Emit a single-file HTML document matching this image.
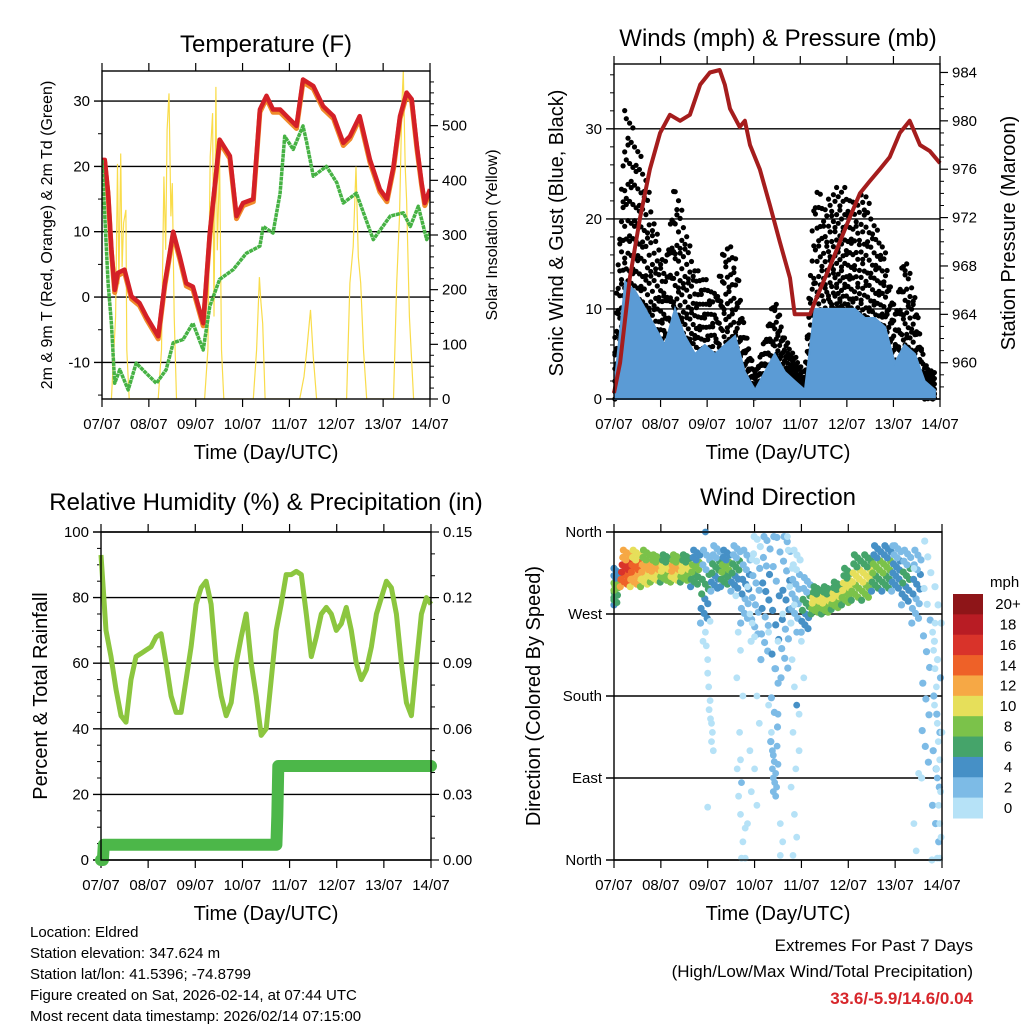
<!DOCTYPE html>
<html><head><meta charset="utf-8">
<style>
html,body{margin:0;padding:0;background:#fff;}
svg{display:block;font-family:"Liberation Sans",sans-serif;}
</style></head>
<body>
<svg id="c" width="1024" height="1024" viewBox="0 0 1024 1024">
<g id="static">
<text x="266" y="52" font-size="24" text-anchor="middle">Temperature (F)</text>
<text x="778" y="46" font-size="24" text-anchor="middle">Winds (mph) &amp; Pressure (mb)</text>
<text x="266" y="510" font-size="24" text-anchor="middle">Relative Humidity (%) &amp; Precipitation (in)</text>
<text x="778" y="505" font-size="24" text-anchor="middle">Wind Direction</text>
<text x="266" y="459" font-size="20" text-anchor="middle">Time (Day/UTC)</text>
<text x="778" y="459" font-size="20" text-anchor="middle">Time (Day/UTC)</text>
<text x="266" y="920" font-size="20" text-anchor="middle">Time (Day/UTC)</text>
<text x="778" y="920" font-size="20" text-anchor="middle">Time (Day/UTC)</text>
<text transform="translate(52,235) rotate(-90)" font-size="16" text-anchor="middle">2m &amp; 9m T (Red, Orange) &amp; 2m Td (Green)</text>
<text transform="translate(497,235) rotate(-90)" font-size="16" text-anchor="middle">Solar Insolation (Yellow)</text>
<text transform="translate(563,233) rotate(-90)" font-size="20" text-anchor="middle">Sonic Wind &amp; Gust (Blue, Black)</text>
<text transform="translate(1015,233) rotate(-90)" font-size="20" text-anchor="middle">Station Pressure (Maroon)</text>
<text transform="translate(47,696) rotate(-90)" font-size="20" text-anchor="middle">Percent &amp; Total Rainfall</text>
<text transform="translate(540,696) rotate(-90)" font-size="20" text-anchor="middle">Direction (Colored By Speed)</text>
<g font-size="15">
<text x="30" y="937">Location: Eldred</text>
<text x="30" y="958">Station elevation: 347.624 m</text>
<text x="30" y="979">Station lat/lon: 41.5396; -74.8799</text>
<text x="30" y="1000">Figure created on Sat, 2026-02-14, at 07:44 UTC</text>
<text x="30" y="1021">Most recent data timestamp: 2026/02/14 07:15:00</text>
</g>
<g font-size="17" text-anchor="end">
<text x="973" y="951">Extremes For Past 7 Days</text>
<text x="973" y="977">(High/Low/Max Wind/Total Precipitation)</text>
<text x="973" y="1004" fill="#d7262b" font-weight="bold">33.6/-5.9/14.6/0.04</text>
</g>
</g>
</svg>
<script>
// ---------- data ----------
const dayLabels=["07/07","08/07","09/07","10/07","11/07","12/07","13/07","14/07"];
const tempDays=[0,0.06,0.13,0.20,0.27,0.34,0.48,0.63,0.80,0.95,1.20,1.34,1.52,1.66,1.80,1.94,2.16,2.30,2.51,2.73,2.87,3.01,3.23,3.37,3.51,3.65,3.80,3.94,4.15,4.29,4.51,4.72,4.94,5.15,5.29,5.50,5.72,5.93,6.08,6.22,6.36,6.50,6.61,6.72,6.82,6.89,7];
const tempF=[21,21,16,7.3,1.1,3.7,4.2,0.1,-0.9,-3,-6,2.1,10,6.2,2.1,1.6,-4,9.8,24.1,21.6,12.4,14.4,15,28.7,30.8,28.7,28.7,27.7,26.2,33.3,32.3,29.2,27.7,23.6,24.6,27.7,21,16.5,15,20,27.7,31.3,30.3,23.1,17.5,14.4,16.5];
const dewDays=[0,0.06,0.13,0.20,0.27,0.38,0.56,0.73,0.95,1.16,1.37,1.52,1.73,1.94,2.16,2.30,2.51,2.80,3.08,3.37,3.44,3.65,3.80,3.90,4.08,4.29,4.37,4.51,4.79,5.01,5.15,5.43,5.58,5.79,6.15,6.43,6.58,6.75,6.93,7];
const dewF=[21,12.4,2.1,-4,-13.2,-11.1,-14.2,-10.1,-11.7,-13.2,-11.1,-7,-6.5,-4,-8.1,-1.4,2.7,4.2,6.7,7.8,10.8,9.8,15.9,24.6,22.6,26.2,23.6,18.5,20,17.5,14.4,15.9,12.9,8.8,12.4,12.9,10.8,13.9,8.8,9.8];
const solarDays=[0.20,0.29,0.33,0.36,0.40,0.43,0.46,0.51,0.53,0.58,1.20,1.27,1.32,1.36,1.39,1.43,1.47,1.50,1.54,1.59,2.19,2.26,2.31,2.36,2.39,2.43,2.46,2.51,2.55,2.60,3.23,3.30,3.36,3.39,3.43,3.48,4.22,4.31,4.37,4.45,4.51,4.58,5.22,5.29,5.36,5.42,5.47,5.52,5.58,5.65,6.22,6.29,6.35,6.40,6.43,6.47,6.50,6.56,6.65];
const solarW=[0,150,430,210,449,241,322,346,90,0,0,90,407,273,492,559,334,395,151,0,0,90,443,523,151,571,272,437,90,0,0,90,223,180,138,0,0,41,90,163,77,0,0,212,279,425,260,212,90,0,0,212,334,540,600,425,364,151,0];
const windDays=[0.02,0.24,0.45,0.67,0.88,1.09,1.31,1.52,1.74,1.95,2.17,2.38,2.60,2.81,3.03,3.24,3.45,3.67,3.88,4.10,4.31,4.53,4.74,4.96,5.17,5.39,5.60,5.82,6.03,6.24,6.46,6.67,6.89];
const gustHi=[8,34,30,26,20,15,25,20,15,14,12,18,17,8,3,7,12,7,5,3,25,22,24,24,22,24,20,17,10,17,12,4,3];
const gustLo=[0,12,10,8,5,5,8,5,3,1,1,3,3,1,0,1,2,1,1,0,5,8,10,10,8,8,6,5,2,3,2,0,0];
const sonicHi=[2,13,12,10,8,6,10,7,5,6,5,6,7,3,1,3,5,3,2,1,10,10,10,10,10,9,9,8,4,6,5,2,1];
const presDays=[0,0.13,0.34,0.56,0.77,0.99,1.20,1.42,1.63,1.85,2.06,2.27,2.38,2.49,2.70,2.81,2.92,3.13,3.35,3.56,3.78,3.88,3.99,4.21,4.31,4.42,4.64,4.85,5.06,5.28,5.49,5.71,5.92,6.14,6.35,6.46,6.57,6.78,7];
const presMb=[957.5,960,967,972,976,979,980.5,980,980.5,983,984,984.2,983,981,979.5,980,978,976,973,970,967,964,964,964,965,966,968,970,972,974,975,976,977,979,980,979,978,977.5,976.5];
const rhStep=0.1062;
const rhPct=[93,70,62,52,44,42,55,62,63,64,65,68,69,60,50,45,45,55,65,78,83,85,78,60,50,44,48,60,68,75,60,50,38,40,55,70,78,87,87,88,87,75,62,68,75,77,75,70,72,77,70,60,55,58,65,75,80,85,83,75,60,48,44,60,75,80,78];
const precDays=[0,0.04,0.06,3.72,3.74,3.76,7];
const precIn=[0,0,0.007,0.007,0.02,0.043,0.043];
const dirCenter=[300,320,320,320,320,320,320,320,320,300,320,320,320,300,300,290,250,280,300,280,285,285,290,300,310,310,320,320,320,310,300,220,150];
const dirSpread=[20,20,20,20,15,15,15,15,20,40,25,20,25,40,60,70,120,80,40,30,15,15,15,20,25,25,25,25,25,30,40,130,150];
const dirSpeed=[6,13,11,9,9,8,9,8,6,4,4,5,4,2,1,2,2,2,1,4,7,7,8,8,7,7,6,6,3,4,2,1,1];
const strDays=[1.95,1.97,2.0,2.0,2.02,2.05,2.03,2.06,2.08,2.1,2.08,2.12,2.05,1.9,2.0,2.6,2.65,2.7,2.62,2.75,2.68,2.7,2.63,2.72,2.66,2.7,2.8,2.75,2.72,2.8,2.9,2.95,3.0,2.85,2.95,3.05,3.1,2.9,3.0,2.93,3.05,2.85,3.35,3.38,3.4,3.42,3.38,3.45,3.4,3.43,3.47,3.4,3.45,3.5,3.48,3.36,3.5,3.3,3.45,3.55,3.6,3.55,3.3,3.5,3.6,3.7,3.72,3.8,3.75,3.85,3.9,3.8,3.85,3.9,3.82,3.95,3.88,3.78,3.85,3.9,3.82,4.0,4.05,3.95,6.82,6.85,6.88,6.84,6.9,6.92,6.95,6.9,6.97,6.93,6.95,6.98,6.9,6.95,6.85,6.8,6.88,7.0,6.5,6.4,6.45,5.95,6.4,1.95];
const strDirs=[250,235,220,205,190,175,165,155,150,140,130,120,262,240,58,290,250,230,200,180,140,110,100,85,70,50,35,20,2,2,270,260,245,300,330,180,150,120,100,75,60,40,130,120,115,108,100,95,90,85,80,75,70,105,125,140,160,170,210,40,20,5,250,240,270,355,340,320,300,280,250,220,190,170,140,120,100,80,50,25,5,240,200,160,230,210,190,170,150,130,110,90,75,60,40,25,2,2,260,250,100,140,95,40,10,345,320,360];
const strSpeed=[0,0,0,0,0,0,0,0,0,0,0,0,0,0,0,0,0,0,0,0,0,0,0,2,0,0,0,0,0,0,0,0,0,0,0,0,0,0,0,0,0,0,2,2,2,2,2,2,2,2,2,2,2,2,2,0,2,0,2,0,0,0,0,0,0,0,0,0,0,0,2,0,0,4,0,0,0,0,0,0,0,0,0,0,0,0,0,0,0,0,0,2,0,0,0,0,0,0,0,0,0,0,0,0,0,2,0,4];
const cbLabels=["20+","18","16","14","12","10","8","6","4","2","0"];
const cbColors=["#8e1518","#b81c24","#d9332a","#ee6128","#f6a845","#e6df5a","#7bc24a","#45a46a","#4690c6","#7dbbe6","#b6e2f7"];

// ---------- helpers ----------
const NS="http://www.w3.org/2000/svg";
const svg=document.getElementById('c');
function mk(tag,at,parent){const e=document.createElementNS(NS,tag);for(const k in at)e.setAttribute(k,at[k]);(parent||svg).appendChild(e);return e;}
function lin(d0,d1,r0,r1){return v=>r0+(v-d0)/(d1-d0)*(r1-r0);}
function interp(xs,ys,x){for(let i=1;i<xs.length;i++){if(x<=xs[i]){const t=(x-xs[i-1])/(xs[i]-xs[i-1]);return ys[i-1]+t*(ys[i]-ys[i-1]);}}return ys[ys.length-1];}

function panel(name,x0,x1,y0,y1,ticks,tickLbls,leftMinor,rightTicks,rightLbls,rightMinor){
  const g=mk('g',{});
  
  
  const X=lin(0,7,x0,x1);
  ticks.forEach((t,i)=>{
    const gl=mk('line',{x1:x0-8,x2:x1,y1:t,y2:t,stroke:'#000','stroke-width':1.4},g);
    
    
    const tl=mk('text',{x:x0-12,y:t+5,'font-size':15,'text-anchor':'end'},g);
    tl.textContent=tickLbls[i];
    
    
  });
  leftMinor.forEach(t=>mk('line',{x1:x0-4,x2:x0,y1:t,y2:t,stroke:'#000'},g));
  if(rightTicks){
    rightTicks.forEach((t,i)=>{
      mk('line',{x1:x1,x2:x1+8,y1:t,y2:t,stroke:'#000','stroke-width':1.2},g);
      const tl=mk('text',{x:x1+12,y:t+5,'font-size':15},g);
      tl.textContent=rightLbls[i];
      
      
    });
    rightMinor.forEach(t=>mk('line',{x1:x1,x2:x1+4,y1:t,y2:t,stroke:'#000'},g));
  }
  for(let d=0;d<=7;d++){
    const x=X(d);
    mk('line',{x1:x,x2:x,y1:y0-8,y2:y0,stroke:'#000','stroke-width':1.2},g);
    mk('line',{x1:x,x2:x,y1:y1,y2:y1+8,stroke:'#000','stroke-width':1.2},g);
    const tl=mk('text',{x:x,y:y1+30,'font-size':15,'text-anchor':'middle'},g);
    tl.textContent=dayLabels[d];
    
    
  }
  return X;
}
function frame(x0,x1,y0,y1,name){
  const r=mk('rect',{x:x0,y:y0,width:x1-x0,height:y1-y0,fill:'none',stroke:'#000','stroke-width':1.4});
  
  
}
function line(xs,ys,X,Y,attrs,name){
  const d=xs.map((x,i)=>(i?'L':'M')+X(x).toFixed(1)+','+Y(ys[i]).toFixed(1)).join('');
  const p=mk('path',Object.assign({d:d,fill:'none'},attrs));
  
  
  return p;
}

// ---------- Temperature panel ----------
{
 const x0=102,x1=430,y0=71,y1=399;
 const Y=lin(-15.6,34.6,y1,y0), YS=lin(0,600,y1,y0);
 const lt=[-10,0,10,20,30];
 const minor=[];for(let v=-15;v<=34;v+=5)if(v%10)minor.push(Y(v));
 const rt=[0,100,200,300,400,500];const rmin=[];for(let v=20;v<600;v+=20)if(v%100)rmin.push(YS(v));
 const X=panel('temp',x0,x1,y0,y1,lt.map(Y),lt.map(String),minor,rt.map(YS),rt.map(String),rmin);
 const cp=mk('clipPath',{id:'cpT'});mk('rect',{x:x0,y:y0,width:x1-x0,height:y1-y0},cp);
 const gs=mk('g',{'clip-path':'url(#cpT)'});
 const s=line(solarDays,solarW,X,YS,{stroke:'#f9dc4a','stroke-width':1.2},'solar-line');gs.appendChild(s);
 const o=line(tempDays,tempF.map(v=>v-0.4),X,Y,{stroke:'#f08a2a','stroke-width':5,'stroke-linejoin':'round'},'temp-9m-line');gs.appendChild(o);
 const r=line(tempDays,tempF,X,Y,{stroke:'#d42027','stroke-width':4.5,'stroke-linejoin':'round'},'temp-2m-line');gs.appendChild(r);
 const g=line(dewDays,dewF,X,Y,{stroke:'#46b244','stroke-width':3.5,'stroke-dasharray':'4 0.6','stroke-linejoin':'round'},'dewpoint-line');gs.appendChild(g);
 frame(x0,x1,y0,y1,'temp');
}

// ---------- Wind panel ----------
{
 const x0=614,x1=940,y0=64,y1=399;
 const Y=lin(0,37.2,y1,y0), YP=lin(957,984.7,y1,y0);
 const lt=[0,10,20,30];const minor=[];for(let v=2;v<37;v+=2)if(v%10)minor.push(Y(v));
 const rt=[960,964,968,972,976,980,984];const rmin=[];for(let v=958;v<985;v+=1)if(v%4)rmin.push(YP(v));
 const X=panel('wind',x0,x1,y0,y1,lt.map(Y),lt.map(String),minor,rt.map(YP),rt.map(String),rmin);
 const gd=mk('g',{fill:'#000'});
 
 
 let i=0;
 for(let d=windDays[0];d<=windDays[windDays.length-1];d+=0.035){
   const hi=interp(windDays,gustHi,d), lo=interp(windDays,gustLo,d);
   const n=7;
   for(let k=0;k<n;k++){
     const f=Math.pow((k+((i*3+k)%5)/5)/n,1.3);
     const c=mk('circle',{cx:X(d).toFixed(1),cy:Y(lo+(hi-lo)*f).toFixed(1),r:2.6},gd);
     
     
   }
   i++;
 }
 const top=windDays.map((d,j)=>X(d).toFixed(1)+','+Y(sonicHi[j]).toFixed(1));
 const pts='M'+X(windDays[0])+','+Y(0)+'L'+top.join('L')+'L'+X(windDays[windDays.length-1])+','+Y(0)+'Z';
 const b=mk('path',{d:pts,fill:'#5b9bd5',stroke:'#5b9bd5','stroke-width':2});
 
 
 line(presDays,presMb,X,YP,{stroke:'#a51d1d','stroke-width':4,'stroke-linejoin':'round'},'pressure-line');
 frame(x0,x1,y0,y1,'wind');
}

// ---------- RH panel ----------
{
 const x0=101,x1=431,y0=532,y1=860;
 const Y=lin(0,100,y1,y0), YR=lin(0,0.15,y1,y0);
 const lt=[0,20,40,60,80,100];const minor=[];for(let v=5;v<100;v+=5)if(v%20)minor.push(Y(v));
 const rt=[0,0.03,0.06,0.09,0.12,0.15];const rmin=[];for(let v=0.01;v<0.15;v+=0.01)rmin.push(YR(v));
 const X=panel('rh',x0,x1,y0,y1,lt.map(Y),lt.map(String),minor,rt.map(YR),rt.map(v=>v.toFixed(2)),rmin);
 const rhDays=rhPct.map((v,i)=>Math.min(7,i*rhStep));
 line(rhDays,rhPct,X,Y,{stroke:'#8cc63f','stroke-width':5,'stroke-linejoin':'round'},'rh-line');
 line(precDays,precIn,X,YR,{stroke:'#4cb749','stroke-width':12,'stroke-linejoin':'round','stroke-linecap':'round'},'precip-line');
 frame(x0,x1,y0,y1,'rh');
}

// ---------- Direction panel ----------
{
 const x0=614,x1=942,y0=532,y1=860;
 const Y=lin(0,360,y1,y0);
 const lt=[0,90,180,270,360];
 const X=panel('dir',x0,x1,y0,y1,lt.map(Y),['North','East','South','West','North'],[],null,null,null);
 const col=s=>cbColors[10-Math.max(0,Math.min(10,Math.round(s/2)))];
 const gd=mk('g',{});
 
 
 for(let j=0;j<windDays.length;j++){
   for(let k=0;k<16;k++){
     const dd=windDays[j]+((k*7)%16/16-0.5)*0.21;
     const off=((k*5)%16/15-0.5)*2*dirSpread[j];
     const sp=dirSpeed[j]+((k%3)-1)*2*(dirSpeed[j]>3?1:0.5);
     const c=mk('circle',{cx:X(Math.max(0,Math.min(7,dd))).toFixed(1),cy:Y(Math.min(355,Math.max(0,dirCenter[j]+off))).toFixed(1),r:3.6,fill:col(sp)},gd);
     
     
   }
 }
 strDays.forEach((d,i)=>{
   const c=mk('circle',{cx:X(d).toFixed(1),cy:Y(strDirs[i]).toFixed(1),r:3.4,fill:col(strSpeed[i])},gd);
   
   
 });
 frame(x0,x1,y0,y1,'dir');
 // colorbar
 const cb=mk('g',{});
 
 
 const bh=(818-594)/cbColors.length;
 cbColors.forEach((c,i)=>{
   const r=mk('rect',{x:953,y:594+i*bh,width:30,height:bh+0.5,fill:c},cb);
   
   
   const t=mk('text',{x:1008,y:594+i*bh+bh/2+5,'font-size':15,'text-anchor':'middle'},cb);
   t.textContent=cbLabels[i];
   
   
 });
 const u=mk('text',{x:990,y:587,'font-size':15},cb);
 u.textContent='mph';
 
 
}
</script>
</body></html>
